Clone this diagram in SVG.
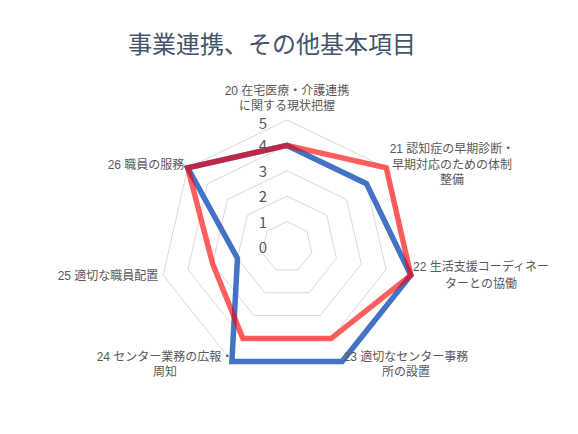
<svg xmlns="http://www.w3.org/2000/svg" width="578" height="434" viewBox="0 0 578 434">
<style>
.title{font-family:"Noto Sans CJK JP","Noto Sans",sans-serif;font-size:24px;fill:#44546A;text-anchor:middle}
.cat{font-family:"Liberation Sans","Noto Sans CJK JP",sans-serif;font-size:12px;fill:#595959;text-anchor:middle}
.val{font-family:"Noto Sans CJK JP","Noto Sans",sans-serif;font-size:15px;fill:#595959;text-anchor:middle}
.grid{fill:none;stroke:#D9D9D9;stroke-width:1}
.s{fill:none;stroke-width:5.5;stroke-linejoin:miter}
</style>
<rect width="578" height="434" fill="#FFFFFF"/>
<text class="title" x="272" y="53">事業連携、その他基本項目</text>
<g id="grid">
<polygon class="grid" points="287,221.6 306.86,231.16 311.76,252.65 298.02,269.88 275.98,269.88 262.24,252.65 267.14,231.16"/>
<polygon class="grid" points="287,196.2 326.72,215.33 336.53,258.3 309.04,292.77 264.96,292.77 237.47,258.3 247.28,215.33"/>
<polygon class="grid" points="287,170.8 346.58,199.49 361.29,263.96 320.06,315.65 253.94,315.65 212.71,263.96 227.42,199.49"/>
<polygon class="grid" points="287,145.4 366.43,183.65 386.05,269.61 331.08,338.54 242.92,338.54 187.95,269.61 207.57,183.65"/>
<polygon class="grid" points="287,120 386.29,167.82 410.82,275.26 342.1,361.42 231.9,361.42 163.18,275.26 187.71,167.82"/>
</g>
<g id="connectors">
<polygon id="series-blue" class="s" stroke="#4472C4" points="287,145.4 366.43,183.65 410.82,275.26 342.1,361.42 231.9,361.42 237.47,258.3 187.71,167.82"/>
<polygon id="series-red" class="s" stroke="#FF0000" stroke-opacity="0.63" points="287,145.4 386.29,167.82 410.82,275.26 331.08,338.54 242.92,338.54 212.71,263.96 187.71,167.82"/>
</g>
<g id="value-axis">
<text class="val" x="263" y="128.5">5</text>
<text class="val" x="263" y="151">4</text>
<text class="val" x="263" y="177">3</text>
<text class="val" x="263" y="202">2</text>
<text class="val" x="263" y="227.5">1</text>
<text class="val" x="263" y="252.5">0</text>
</g>
<g id="node-20"><text class="cat" x="287" y="95">20 在宅医療・介護連携</text><text class="cat" x="287" y="110">に関する現状把握</text></g>
<g id="node-21"><text class="cat" x="452" y="153">21 認知症の早期診断・</text><text class="cat" x="452" y="168.5">早期対応のための体制</text><text class="cat" x="452" y="184">整備</text></g>
<g id="node-22"><text class="cat" x="481" y="271">22 生活支援コーディネー</text><text class="cat" x="481" y="287.5">ターとの協働</text></g>
<g id="node-23"><text class="cat" x="406" y="361">23 適切なセンター事務</text><text class="cat" x="406" y="376">所の設置</text></g>
<g id="node-24"><text class="cat" x="165" y="361">24 センター業務の広報・</text><text class="cat" x="165" y="376">周知</text></g>
<g id="node-25"><text class="cat" x="108" y="280">25 適切な職員配置</text></g>
<g id="node-26"><text class="cat" x="146" y="168.5">26 職員の服務</text></g>
</svg>
